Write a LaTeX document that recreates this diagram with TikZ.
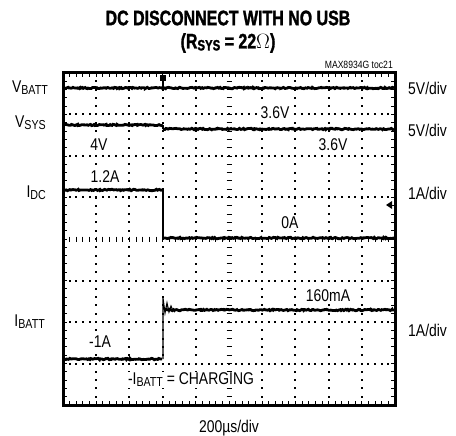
\documentclass[tikz,border=0pt]{standalone}
\usepackage{fontspec}
\setmainfont{Liberation Sans}[FakeStretch=0.82]
\newfontfamily\titlefont{Liberation Sans}[FakeStretch=0.76, BoldFeatures={FakeBold=1.3}]
\usetikzlibrary{decorations.pathmorphing}
\newcommand{\lowsub}[1]{\raisebox{-2pt}{\fontsize{13}{14}\selectfont #1}}

\begin{document}
\begin{tikzpicture}[x=1pt,y=-1pt,
  lbl/.style={font=\fontsize{17}{18}\selectfont, inner sep=1pt},
  inlbl/.style={lbl, fill=white, inner sep=1.5pt},
  trace/.style={line width=2.8pt, decorate, decoration={random steps, segment length=1.3pt, amplitude=0.7pt}},
  edgetrace/.style={line width=1.1pt},
  tick/.style={line width=0.9pt},
  griddot/.style={fill=black}]

\useasboundingbox (0,0) rectangle (456,436);

% title
\node[font=\titlefont\bfseries\fontsize{21}{22}\selectfont] (title) at (228,18) {DC DISCONNECT WITH NO USB};
\node[font=\titlefont\bfseries\fontsize{21}{22}\selectfont] (subtitle) at (228,43) {(R\raisebox{-2pt}{\fontsize{15}{16}\selectfont SYS} = 22\textmd{$\Omega$})};
\node[font=\fontsize{10.5}{11}\selectfont, anchor=east, inner sep=0pt] (tocref) at (393,65) {MAX8934G toc21};

% dotted grid
\foreach \i in {1,2,3,4,6,7,8,9}
  \foreach \k in {1,...,39}
    \fill[griddot] (63+33.2*\i-1,73+8.3*\k-1) rectangle ++(2,2);
\foreach \j in {1,2,3,5,6,7}
  \foreach \k in {1,...,49}
    \fill[griddot] (63+6.64*\k-1,73+41.5*\j-1) rectangle ++(2,2);

% centre axes and edge ticks
\foreach \k in {1,...,49} {
  \draw[tick] (63+6.64*\k,236.5) -- ++(0,5);
  \draw[tick] (63+6.64*\k,73) -- ++(0,4);
  \draw[tick] (63+6.64*\k,405) -- ++(0,-4);
}
\foreach \k in {1,...,39} {
  \draw[tick] (226.5,73+8.3*\k) -- ++(5,0);
  \draw[tick] (63,73+8.3*\k) -- ++(4,0);
  \draw[tick] (395,73+8.3*\k) -- ++(-4,0);
}

% traces
\draw[trace] (64,88) -- (394,88);
\fill (160,75) rectangle (166,81);
\draw[edgetrace] (163,75) -- (163,90);
\draw[trace] (64,125) -- (163,125);
\draw[edgetrace] (163,125) -- (163,129);
\draw[trace] (163,129) -- (394,129);
\draw[trace] (64,190) -- (162,190);
\draw[edgetrace] (163,190) -- (163,238);
\draw[trace] (164,238) -- (394,238);
\draw[trace] (64,359) -- (162,359);
\draw[edgetrace] (163,359) -- (163,298) -- (165,313) -- (167,303) -- (169,312) -- (171,306) -- (173,311);
\draw[trace] (165,310) -- (394,310);
\fill (386,205) -- (392,201) -- (392,209) -- cycle;

% frame
\draw[line width=3pt] (63,73) rectangle (395,405);

% labels in the plot
\node[inlbl] (vsysa) at (275,113) {3.6V};
\node[inlbl] (vsysb) at (99,145) {4V};
\node[inlbl] (vsysc) at (333,145) {3.6V};
\node[inlbl] (idca) at (105,177) {1.2A};
\node[inlbl] (idcb) at (290,223) {0A};
\node[inlbl] (ibatta) at (328,296) {160mA};
\node[inlbl] (ibattb) at (100,342) {-1A};
\node[inlbl] (charging) at (191,380) {-I\lowsub{BATT} = CHARGING};

% channel names
\node[lbl, anchor=east] (vbatt) at (49,88) {V\lowsub{BATT}};
\node[lbl, anchor=east] (vsys) at (47,123) {V\lowsub{SYS}};
\node[lbl, anchor=east] (idc) at (47,193) {I\lowsub{DC}};
\node[lbl, anchor=east] (ibatt) at (46,322) {I\lowsub{BATT}};

% scales
\node[lbl, anchor=west] (vbattdiv) at (407,88) {5V/div};
\node[lbl, anchor=west] (vsysdiv) at (407,130) {5V/div};
\node[lbl, anchor=west] (idcdiv) at (407,193) {1A/div};
\node[lbl, anchor=west] (ibattdiv) at (407,330) {1A/div};
\node[lbl] (timediv) at (229,428) {200µs/div};
\end{tikzpicture}
\end{document}
